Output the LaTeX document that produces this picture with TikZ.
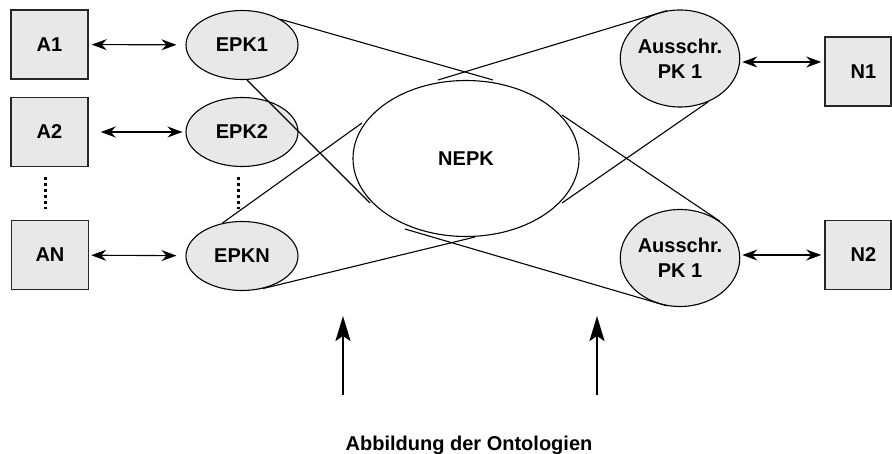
\documentclass[tikz,border=0pt]{standalone}
\usepackage{fontspec}
\setmainfont{Liberation Sans}
\usetikzlibrary{arrows.meta,calc,shapes.geometric}
\definecolor{panel}{RGB}{232,232,232}
\begin{document}
\begin{tikzpicture}[x=1pt,y=-1pt,
  every node/.style={font=\fontsize{20}{25}\selectfont\bfseries},
  sysbox/.style={draw=black!85,line width=1.5pt,fill=panel,minimum width=77pt,minimum height=69pt,inner sep=0pt},
  sysboxr/.style={sysbox,minimum width=66pt},
  proc/.style={ellipse,draw,line width=1.1pt,fill=panel,minimum width=112pt,minimum height=69pt,inner sep=0pt},
  procbig/.style={proc,minimum height=97pt,align=center},
  core/.style={ellipse,draw,line width=1.1pt,fill=white,minimum width=226pt,minimum height=156pt,inner sep=0pt},
  tip/.style={Stealth[length=15pt,width=11pt,inset=5pt]},
  dbl/.style={line width=1.1pt,{Stealth[length=15pt,width=11pt,inset=5pt]}-{Stealth[length=15pt,width=11pt,inset=5pt]}},
  link/.style={line width=1.1pt},
  ellip/.style={line width=3pt,dash pattern=on 3pt off 3pt},
  lift/.style={line width=2.5pt,-{Stealth[length=25pt,width=15pt,inset=5pt]}}
]
\useasboundingbox (0,0) rectangle (892,454);

% local applications and their process chains
\node[sysbox] (a1) at (49.5,44.5) {A1};
\node[sysbox] (a2) at (49.5,132) {A2};
\node[sysbox] (an) at (50,255) {AN};
\node[proc] (epk1) at (242,45) {EPK1};
\node[proc] (epk2) at (242,132) {EPK2};
\node[proc] (epkn) at (242,256) {EPKN};

% central network process chain
\node[core] (nepk) at (466,158.5) {NEPK};

% tendered process chains and partners
\node[procbig] (aus1) at (680,58.5) {Ausschr.\\PK 1};
\node[procbig] (aus2) at (680,258) {Ausschr.\\PK 1};
\node[sysboxr] (n1) at (858,71.5) {\hspace*{11pt}N1};
\node[sysboxr] (n2) at (858,255) {\hspace*{11pt}N2};

% caption
\node[anchor=base] (cap) at (469,450) {Abbildung der Ontologien};

% continuation dots
\coordinate (da) at (45,177);
\coordinate (db) at (45,209);
\coordinate (dc) at (238,177);
\coordinate (dd) at (238,209);
\draw[ellip] (da) -- (db);
\draw[ellip] (dc) -- (dd);

% exchange arrows
\draw[dbl,shorten <=3pt,shorten >=9pt] (a1) -- (epk1);
\draw[dbl,shorten <=12pt,shorten >=3pt] (a2) -- (epk2);
\draw[dbl,shorten <=2pt,shorten >=9pt] (an) -- (epkn);
\draw[dbl,shorten <=2pt,shorten >=3pt] (aus1.east |- 0,62) -- (n1.west |- 0,62);
\draw[dbl,shorten <=2pt,shorten >=3pt] (aus2.east |- 0,255) -- (n2.west |- 0,255);

% mapping lines into the network chain
\coordinate (m1) at (493,80);
\coordinate (m2) at (370,203);
\coordinate (m3) at (362,123);
\coordinate (m4) at (475,237);
\coordinate (m5) at (438,80);
\coordinate (m6) at (562,203);
\coordinate (m7) at (562,115);
\coordinate (m8) at (405,229);
\draw[link] (epk1.34) -- (m1);
\draw[link] (epk1.-82) -- (m2);
\draw[link] (epkn.121) -- (m3);
\draw[link] (epkn.-57) -- (m4);
\draw[link] (aus1.105) -- (m5);
\draw[link] (aus1.-57) -- (m6);
\draw[link] (aus2.43) -- (m7);
\draw[link] (aus2.-105) -- (m8);

% ontology mapping arrows
\coordinate (u1) at (343,395);
\coordinate (v1) at (343,316);
\coordinate (u2) at (597,395);
\coordinate (v2) at (597,316);
\draw[lift] (u1) -- (v1);
\draw[lift] (u2) -- (v2);
\end{tikzpicture}
\end{document}
